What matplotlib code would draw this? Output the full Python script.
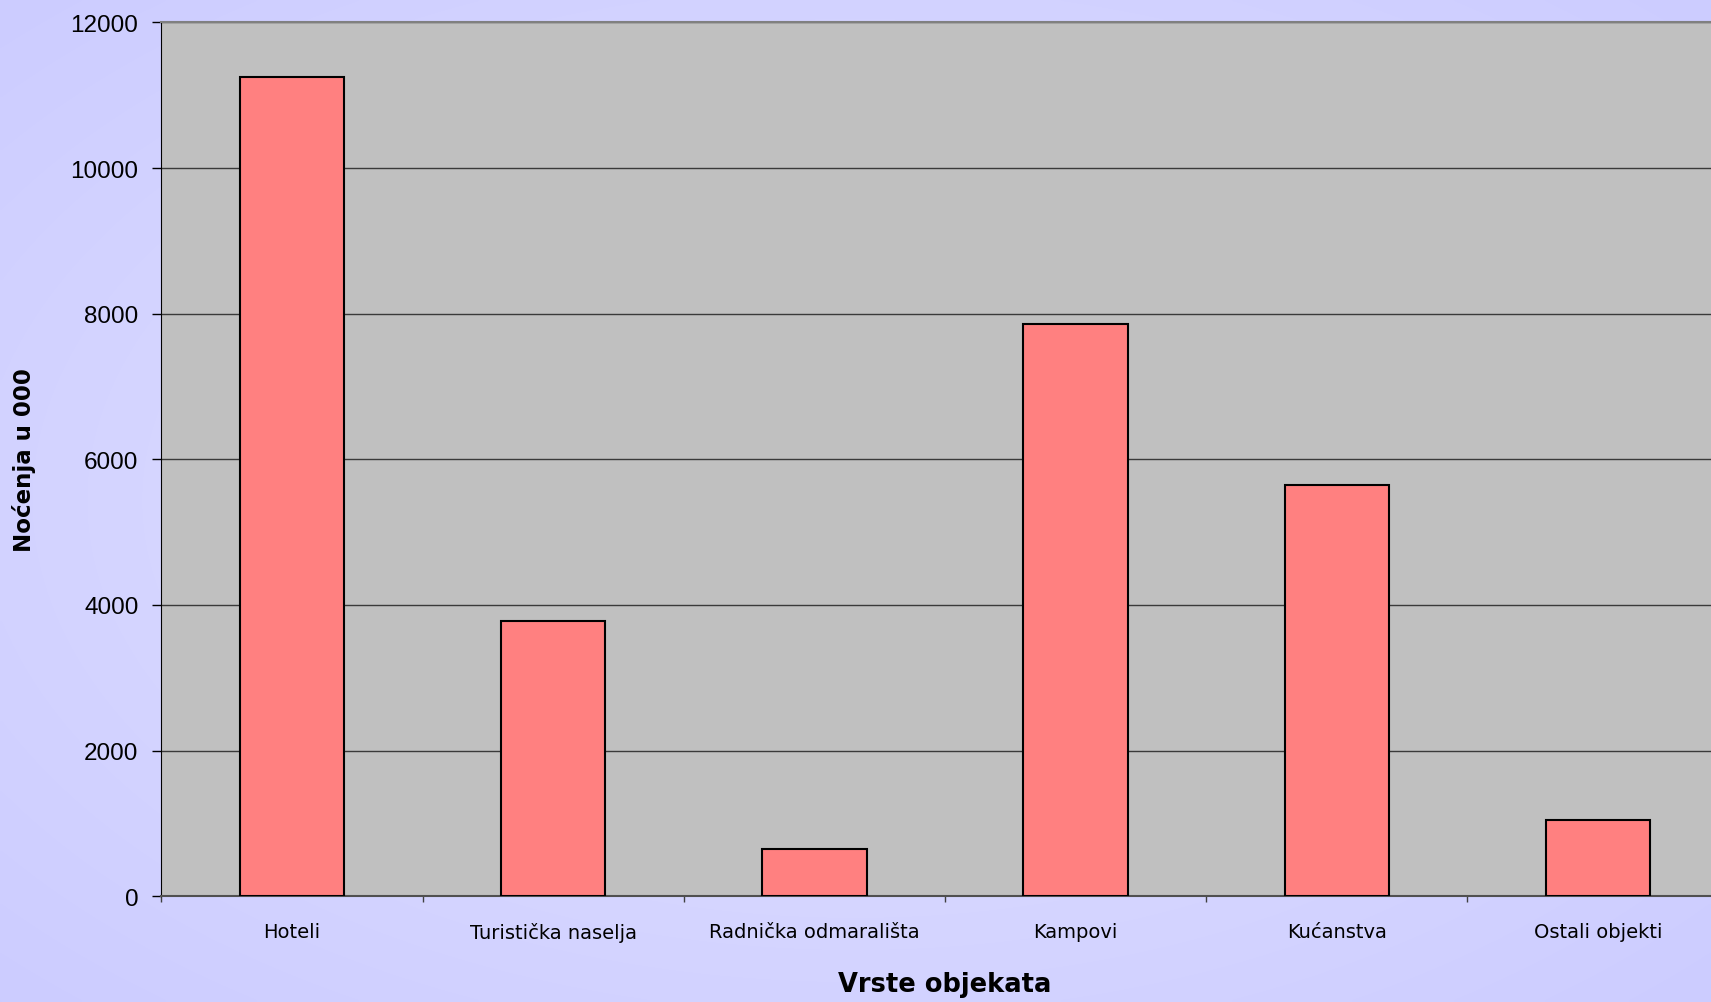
import numpy as np
import matplotlib
matplotlib.use("Agg")
from matplotlib import pyplot as plt

# Noćenja po vrstama smještajnih objekata (u tisućama)
kategorije = ["Hoteli", "Turistička naselja", "Radnička odmarališta",
              "Kampovi", "Kućanstva", "Ostali objekti"]
nocenja = [11250, 3780, 650, 7860, 5650, 1050]
y_ticks = [0, 2000, 4000, 6000, 8000, 10000, 12000]

W, H = 1711, 1003
fig = plt.figure(figsize=(W / 100.0, H / 100.0), dpi=100)

# pozadina: blagi radijalni prijelaz plave
bg = fig.add_axes([0, 0, 1, 1], zorder=-1)
gx, gy = np.meshgrid(np.linspace(-1, 1, 400), np.linspace(-1, 1, 240))
t = np.sqrt(gx ** 2 + gy ** 2) / np.sqrt(2)
c0 = np.array([226, 226, 255]) / 255.0
c1 = np.array([204, 204, 255]) / 255.0
img = c0[None, None, :] + (c1 - c0)[None, None, :] * t[:, :, None]
bg.imshow(img, aspect="auto", extent=[0, 1, 0, 1], interpolation="bilinear")
bg.axis("off")

# os se proteže malo preko desnog ruba slike
left, right = 161.4, 1728.6
top, bottom = 23.4, 897.3
ax = fig.add_axes([left / W, 1 - bottom / H, (right - left) / W, (bottom - top) / H])
ax.set_facecolor("#C0C0C0")

index = np.arange(len(kategorije))
ax.bar(index, nocenja, width=0.4, color="#FF8080", edgecolor="black",
       linewidth=1.5, zorder=3)

ax.set_xlim(-0.5, len(kategorije) - 0.5)
ax.set_ylim(0, 12000)
ax.set_yticks(y_ticks)
ax.set_yticklabels([str(v) for v in y_ticks], fontfamily="Liberation Sans", fontsize=17.5)
ax.tick_params(axis="y", direction="out", length=6.5, width=1, color="black", pad=10)

ax.set_xticks(index)
ax.set_xticklabels(kategorije, fontfamily="DejaVu Sans", fontsize=14)
ax.set_xticks(np.arange(len(kategorije)) - 0.5, minor=True)
ax.tick_params(axis="x", which="major", length=0, pad=18.5)
ax.tick_params(axis="x", which="minor", direction="out", length=4.5, width=1, color="#404040")

ax.yaxis.grid(True, color="#3A3A3A", linewidth=1)
ax.set_axisbelow(True)
ax.spines["top"].set_color("#808080")
ax.spines["top"].set_linewidth(1.5)
ax.spines["right"].set_visible(False)
ax.spines["left"].set_color("black")
ax.spines["bottom"].set_color("#505050")
ax.spines["bottom"].set_linewidth(1.5)

ax.set_xlabel("Vrste objekata", fontfamily="DejaVu Sans", fontweight="bold",
              fontsize=18.5, va="center")
ax.xaxis.set_label_coords(0.5, -(985 - bottom) / (bottom - top))
ax.set_ylabel("Noćenja u 000", fontfamily="DejaVu Sans", fontweight="bold",
              fontsize=16.5, va="center")
ax.yaxis.set_label_coords(-(left - 24) / (right - left), 0.5)

plt.savefig("out.png", dpi=100)
